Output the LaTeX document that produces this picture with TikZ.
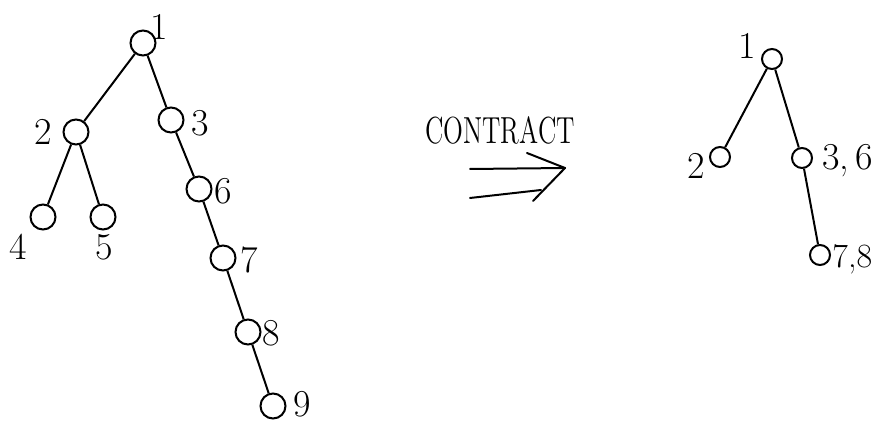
\documentclass[tikz,border=0pt]{standalone}
\begin{document}
\begin{tikzpicture}[x=0.5pt,y=-0.5pt,
  vtx/.style={circle,draw,line width=1pt,inner sep=0pt,minimum size=12.5pt},
  svtx/.style={circle,draw,line width=1pt,inner sep=0pt,minimum size=10pt},
  edge/.style={line width=1pt},
  lbl/.style={inner sep=0pt,font=\fontsize{19}{22}\selectfont},
  every node/.append style={anchor=center}]
\useasboundingbox (0,0) rectangle (877,421);

% original tree
\node[vtx] (a1) at (143,43) {};
\node[vtx] (a2) at (76,132) {};
\node[vtx] (a3) at (171,120) {};
\node[vtx] (a4) at (43,217) {};
\node[vtx] (a5) at (103,217) {};
\node[vtx] (a6) at (199,189) {};
\node[vtx] (a7) at (223,258) {};
\node[vtx] (a8) at (248,332) {};
\node[vtx] (a9) at (273,406) {};
\draw[edge] (a1) -- (a2);
\draw[edge] (a1) -- (a3);
\draw[edge] (a2) -- (a4);
\draw[edge] (a2) -- (a5);
\draw[edge] (a3) -- (a6);
\draw[edge] (a6) -- (a7);
\draw[edge] (a7) -- (a8);
\draw[edge] (a8) -- (a9);
\node[lbl] (l1) at (159,27) {1};
\node[lbl] (l2) at (43,132) {2};
\node[lbl] (l3) at (200,123) {3};
\node[lbl] (l4) at (18,247) {4};
\node[lbl] (l5) at (104,247) {5};
\node[lbl] (l6) at (223,191) {6};
\node[lbl] (l7) at (249,260) {7};
\node[lbl] (l8) at (271,333) {8};
\node[lbl] (l9) at (302,404) {9};

% contraction arrow
\node[inner sep=0pt,font=\fontsize{13}{16}\selectfont] (ct) at (500,130) {\scalebox{1}[1.45]{CONTRACT}};
\coordinate (u0) at (470,169);
\coordinate (tip) at (565,168);
\coordinate (d0) at (470,198);
\coordinate (d1) at (541,190);
\coordinate (h0) at (527,153);
\coordinate (h1) at (533,201);
\draw[edge,line cap=round] (u0) -- (tip);
\draw[edge,line cap=round] (d0) -- (d1);
\draw[edge,line cap=round,line join=round] (h0) -- (tip) -- (h1);

% contracted tree
\node[svtx] (b1) at (772,59) {};
\node[svtx] (b2) at (720,157) {};
\node[svtx] (b36) at (802,158) {};
\node[svtx] (b78) at (820,255) {};
\draw[edge] (b1) -- (b2);
\draw[edge] (b1) -- (b36);
\draw[edge] (b36) -- (b78);
\node[lbl] (m1) at (747,46) {1};
\node[lbl] (m2) at (696,166) {2};
\node[lbl,anchor=west] (m36) at (822,161) {3,\,6};
\node[lbl,anchor=west,font=\fontsize{17}{20}\selectfont] (m78) at (832,259) {7,8};
\end{tikzpicture}
\end{document}
